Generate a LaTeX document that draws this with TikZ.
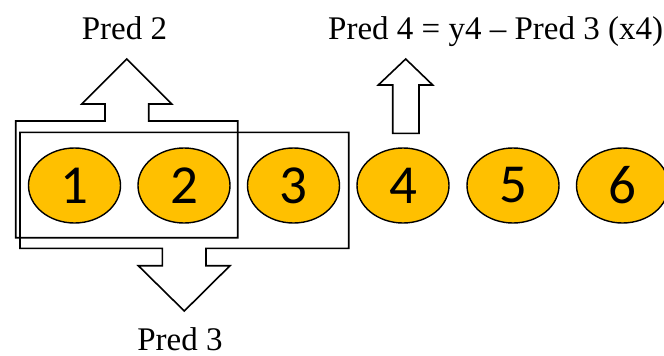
\documentclass[tikz,border=0pt]{standalone}
\usepackage{fontspec}
\setmainfont{Liberation Serif}
\newfontfamily\digitfont{Carlito}
\usetikzlibrary{shapes.geometric}
\definecolor{gold}{HTML}{FFC000}
\tikzset{
  step circle/.style={ellipse, draw=black, line width=1.4pt, fill=gold,
    minimum width=92pt, minimum height=75pt, inner sep=0pt,
    font=\digitfont\fontsize{55}{55}\selectfont},
  callout/.style={draw=black, line width=1.6pt, line join=miter},
  label text/.style={inner sep=0pt, font=\fontsize{33}{36}\selectfont},
}
\begin{document}
\begin{tikzpicture}[x=1pt,y=-1pt]
\useasboundingbox (0,0) rectangle (664,356);
\clip (0,0) rectangle (664,356);
% ellipses
\node[step circle] (n1) at (74.5,185.5) {1};
\node[step circle] (n2) at (184,185.5) {2};
\node[step circle] (n3) at (293.5,185.5) {3};
\node[step circle] (n4) at (403,185.5) {4};
\node[step circle] (n5) at (513,185.5) {5};
\node[step circle] (n6) at (622.5,185.5) {6};
% box with up arrow (Pred 2)
\draw[callout] (15.7,121) -- (105,121) -- (105,104) -- (81.7,104) -- (126.7,59)
  -- (171.7,104) -- (148.7,104) -- (148.7,121) -- (237.7,121) -- (237.7,237.7)
  -- (15.7,237.7) -- cycle;
% box with down arrow (Pred 3)
\draw[callout] (20,132.3) -- (348.7,132.3) -- (348.7,248.3) -- (206,248.3)
  -- (206,265.7) -- (230,265.7) -- (184.3,311) -- (138.3,265.7) -- (162.3,265.7)
  -- (162.3,248.3) -- (20,248.3) -- cycle;
% plain up arrow (Pred 4)
\draw[callout] (392.7,133.3) -- (392.7,85) -- (378.3,85) -- (405.7,59)
  -- (432.7,85) -- (419,85) -- (419,133.3) -- cycle;
% labels
\node[label text, anchor=base] (p2) at (124.5,39) {Pred 2};
\node[label text, anchor=base] (p3) at (180,350) {Pred 3};
\node[label text, anchor=base west] (p4) at (328,39) {Pred 4 = y4 – Pred 3 (x4)};
\end{tikzpicture}
\end{document}
